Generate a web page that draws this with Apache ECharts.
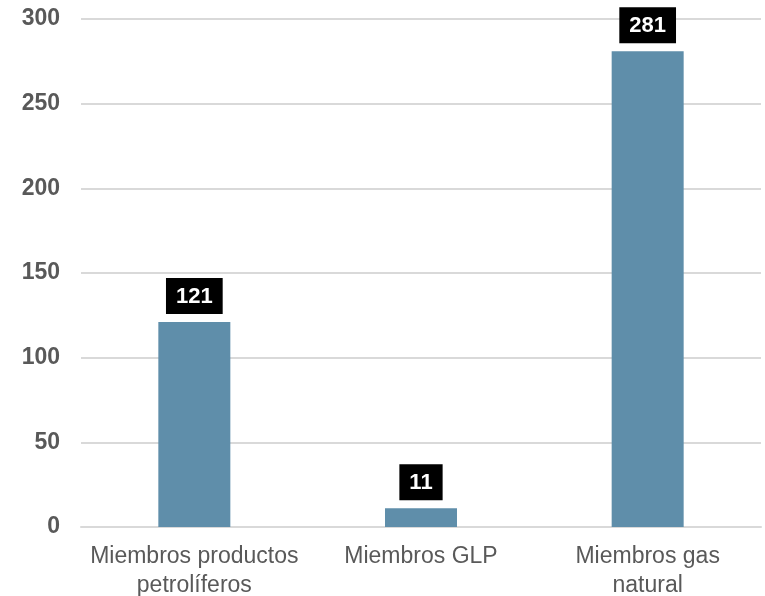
<!DOCTYPE html>
<html>
<head>
<meta charset="utf-8">
<script src="https://cdn.jsdelivr.net/npm/echarts@6/dist/echarts.min.js"></script>
<style>
  html, body { margin: 0; padding: 0; background: #fff; }
  #chart { width: 765px; height: 596px; }
</style>
</head>
<body>
<div id="chart"></div>
<script>
var categories = ['Miembros productos\npetrolíferos', 'Miembros GLP', 'Miembros gas\nnatural'];
var values = [121, 11, 281];
var yTicks = { min: 0, max: 300, interval: 50 };

var chart = echarts.init(document.getElementById('chart'));
chart.setOption({
  animation: false,
  backgroundColor: '#ffffff',
  grid: { left: 81, right: 4, top: 19, bottom: 69, outerBoundsMode: 'none', containLabel: false },
  xAxis: {
    type: 'category',
    data: categories,
    axisTick: { show: false },
    axisLine: { show: true, lineStyle: { color: '#d9d9d9', width: 2 } },
    axisLabel: {
      color: '#595959',
      fontSize: 23,
      fontFamily: 'Liberation Sans, Arial, sans-serif',
      lineHeight: 29,
      margin: 15,
      interval: 0
    }
  },
  yAxis: {
    type: 'value',
    min: yTicks.min,
    max: yTicks.max,
    interval: yTicks.interval,
    axisLine: { show: false },
    axisTick: { show: false },
    splitLine: { lineStyle: { color: '#d9d9d9', width: 2 } },
    axisLabel: {
      color: '#595959',
      fontSize: 23,
      fontWeight: 'bold',
      fontFamily: 'Liberation Sans, Arial, sans-serif',
      margin: 21
    }
  },
  series: [{
    type: 'bar',
    data: values,
    barWidth: 72,
    itemStyle: { color: '#5f8eaa' },
    label: {
      show: true,
      position: 'top',
      distance: 8,
      color: '#ffffff',
      backgroundColor: '#000000',
      fontSize: 22,
      fontWeight: 'bold',
      fontFamily: 'Liberation Sans, Arial, sans-serif',
      padding: [8, 10, 6, 10]
    }
  }]
});
</script>
</body>
</html>
